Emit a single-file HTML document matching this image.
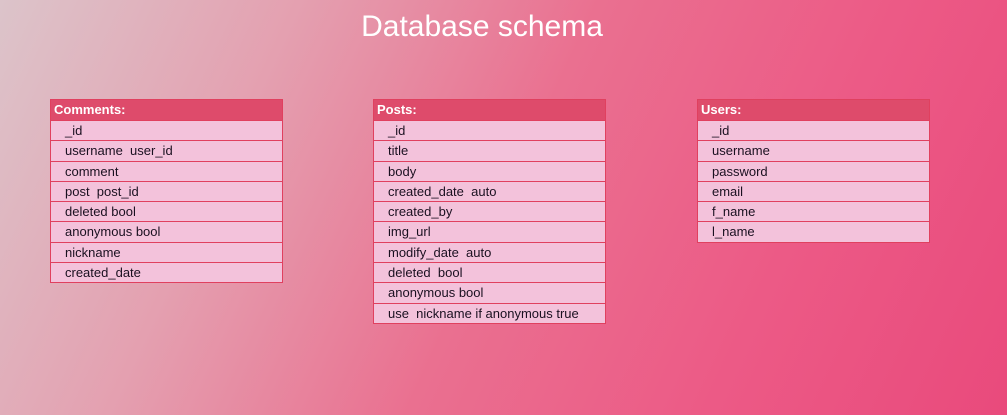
<!DOCTYPE html>
<html><head><style>
body{margin:0;width:1007px;height:415px;overflow:hidden;font-family:"Liberation Sans",sans-serif;
background:linear-gradient(115deg,#dcc4ca 0%,#e4a0b0 25%,#ea7090 50%,#ec5a86 75%,#e94a7c 100%);position:relative}
h1{position:absolute;left:0;width:964px;top:10px;margin:0;text-align:center;color:#fff;font-weight:normal;font-size:30px}
.t{position:absolute;width:233px;border:1px solid #e0405f;background:#f3c2db;box-sizing:border-box}
.h{height:20px;background:#de4b6b;color:#fff;font-weight:bold;font-size:13px;line-height:20px;padding-left:3px}
.r{height:20.3px;border-top:1px solid #e0405f;box-sizing:border-box;font-size:13px;line-height:19px;padding-left:14px;color:#1a1020}
</style></head><body>
<h1>Database schema</h1>
<div class="t" style="left:50px;top:99px">
<div class="h">Comments:</div>
<div class="r">_id</div><div class="r">username &nbsp;user_id</div><div class="r">comment</div><div class="r">post &nbsp;post_id</div><div class="r">deleted bool</div><div class="r">anonymous bool</div><div class="r">nickname</div><div class="r">created_date</div>
</div>
<div class="t" style="left:373px;top:99px">
<div class="h">Posts:</div>
<div class="r">_id</div><div class="r">title</div><div class="r">body</div><div class="r">created_date &nbsp;auto</div><div class="r">created_by</div><div class="r">img_url</div><div class="r">modify_date &nbsp;auto</div><div class="r">deleted &nbsp;bool</div><div class="r">anonymous bool</div><div class="r">use &nbsp;nickname if anonymous true</div>
</div>
<div class="t" style="left:697px;top:99px">
<div class="h">Users:</div>
<div class="r">_id</div><div class="r">username</div><div class="r">password</div><div class="r">email</div><div class="r">f_name</div><div class="r">l_name</div>
</div>
</body></html>
